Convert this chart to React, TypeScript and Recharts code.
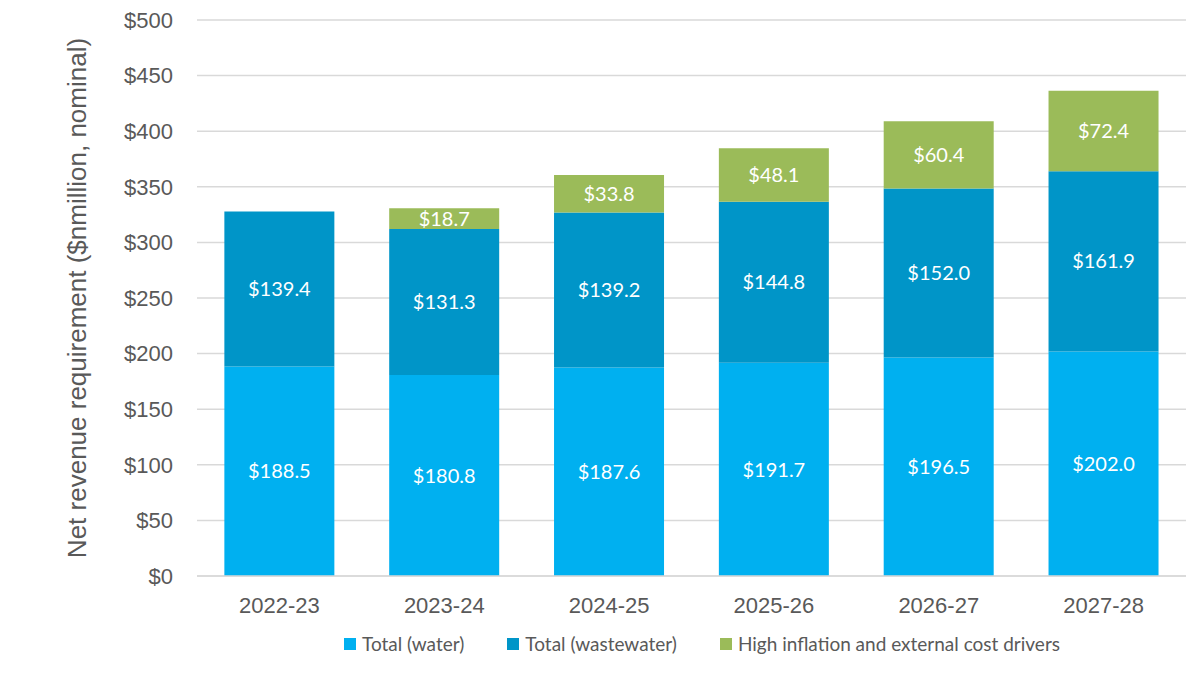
import React from 'react'
import { BarChart, Bar, XAxis, YAxis, CartesianGrid, Legend, LabelList } from 'recharts'

const years = ['2022-23', '2023-24', '2024-25', '2025-26', '2026-27', '2027-28']
const water = [188.5, 180.8, 187.6, 191.7, 196.5, 202.0]
const wastewater = [139.4, 131.3, 139.2, 144.8, 152.0, 161.9]
const inflation = [null, 18.7, 33.8, 48.1, 60.4, 72.4]
const yTicks = [0, 50, 100, 150, 200, 250, 300, 350, 400, 450, 500]

const seriesNames = ['Total (water)', 'Total (wastewater)', 'High inflation and external cost drivers']
const seriesColors = ['#00B0F0', '#0095C8', '#9BBB59']

const data = years.map((year, i) => ({
  year,
  water: water[i],
  wastewater: wastewater[i],
  inflation: inflation[i],
}))

if (typeof document !== 'undefined') document.body.style.margin = '0'

const fmt = (v: any) => (v == null ? '' : `$${Number(v).toFixed(1)}`)
const labelStyle = { fill: '#fff', fontSize: 20, fontFamily: 'Lato, sans-serif' }
const axisFont = 'Liberation Sans, Arial, sans-serif'

function LegendBox() {
  return (
    <div
      style={{
        height: 61,
        display: 'flex',
        justifyContent: 'center',
        alignItems: 'flex-start',
        paddingLeft: 218,
        paddingTop: 6,
        boxSizing: 'border-box',
        fontFamily: 'Lato, sans-serif',
        fontSize: 19,
        color: '#595959',
      }}
    >
      {seriesNames.map((name, i) => (
        <div key={name} style={{ display: 'flex', alignItems: 'center', marginRight: i < 2 ? 43 : 0 }}>
          <span style={{ width: 12, height: 12, background: seriesColors[i], marginRight: 6, display: 'inline-block' }} />
          <span>{name}</span>
        </div>
      ))}
    </div>
  )
}

export default function App() {
  return (
    <BarChart
      width={1200}
      height={687}
      data={data}
      margin={{ top: 20, right: 14, bottom: 0, left: 0 }}
      barCategoryGap="16.6%"
    >
      <CartesianGrid vertical={false} stroke="#d9d9d9" strokeWidth={1.5} />
      <XAxis
        dataKey="year"
        axisLine={{ stroke: '#d9d9d9', strokeWidth: 1.5 }}
        tickLine={false}
        tick={{ fill: '#595959', fontSize: 22, fontFamily: axisFont }}
        tickMargin={15}
        height={50}
      />
      <YAxis
        width={197}
        domain={[0, 500]}
        ticks={yTicks}
        axisLine={false}
        tickLine={false}
        tickMargin={18}
        tickFormatter={(v) => `$${v}`}
        tick={{ fill: '#595959', fontSize: 22, fontFamily: axisFont }}
        label={{
          value: 'Net revenue requirement ($nmillion, nominal)',
          angle: -90,
          position: 'insideLeft',
          dx: 72,
          style: { textAnchor: 'middle', fill: '#595959', fontSize: 26, fontFamily: axisFont },
        }}
      />
      <Legend verticalAlign="bottom" height={61} content={() => <LegendBox />} />
      <Bar dataKey="water" name={seriesNames[0]} stackId="a" fill={seriesColors[0]} isAnimationActive={false}>
        <LabelList dataKey="water" position="center" formatter={fmt} style={labelStyle} />
      </Bar>
      <Bar dataKey="wastewater" name={seriesNames[1]} stackId="a" fill={seriesColors[1]} isAnimationActive={false}>
        <LabelList dataKey="wastewater" position="center" formatter={fmt} style={labelStyle} />
      </Bar>
      <Bar dataKey="inflation" name={seriesNames[2]} stackId="a" fill={seriesColors[2]} isAnimationActive={false}>
        <LabelList dataKey="inflation" position="center" formatter={fmt} style={labelStyle} />
      </Bar>
    </BarChart>
  )
}
